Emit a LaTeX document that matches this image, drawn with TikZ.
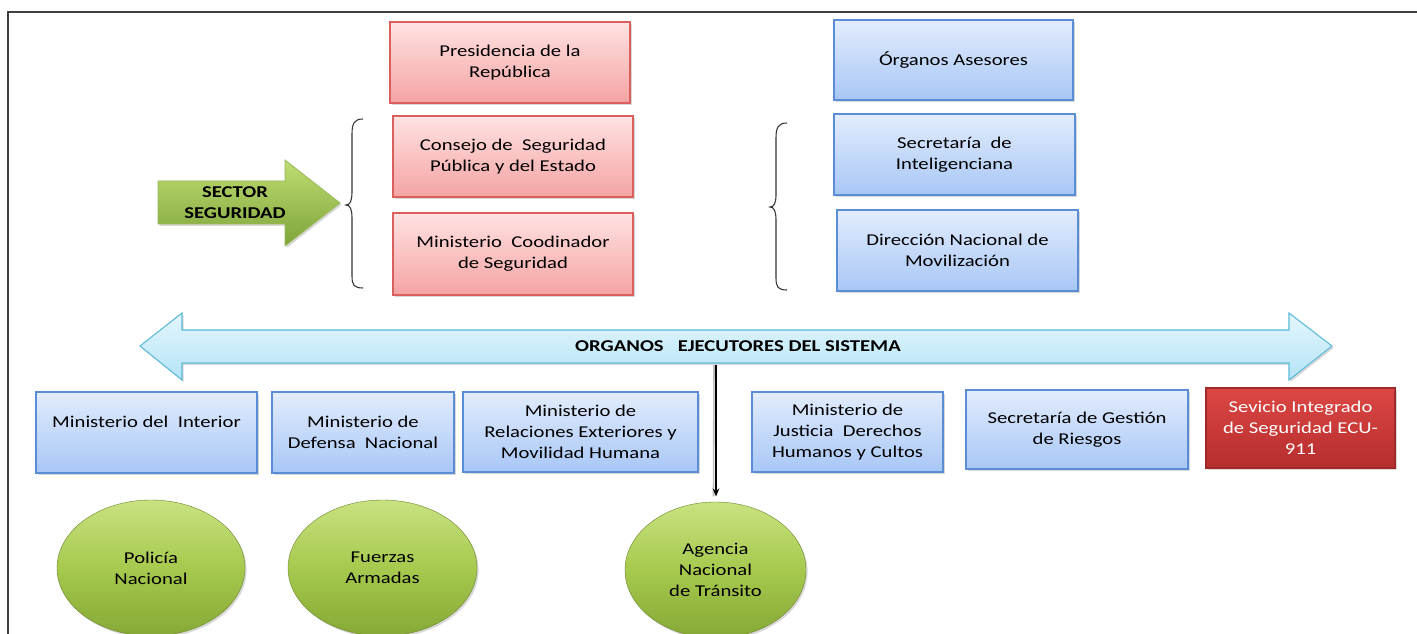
\documentclass[tikz,border=0pt]{standalone}
\usepackage{fontspec}
\setmainfont[FakeStretch=1.25]{Carlito}
\usetikzlibrary{shadows,arrows.meta,shapes.geometric}
\definecolor{rtop}{HTML}{FFE2E2}
\definecolor{rbot}{HTML}{F5A3A3}
\definecolor{rdraw}{HTML}{D9605C}
\definecolor{btop}{HTML}{E2ECFD}
\definecolor{bbot}{HTML}{A8C7F6}
\definecolor{bdraw}{HTML}{5B8DD6}
\definecolor{etop}{HTML}{DC4744}
\definecolor{ebot}{HTML}{B52D2D}
\definecolor{edraw}{HTML}{A02828}
\definecolor{gtop}{HTML}{C9E281}
\definecolor{gmid}{HTML}{A6C94E}
\definecolor{gbot}{HTML}{86A836}
\definecolor{atop}{HTML}{BFDC72}
\definecolor{abot}{HTML}{7EA43A}
\definecolor{adraw}{HTML}{9BBB59}
\definecolor{ltop}{HTML}{E4F6FD}
\definecolor{lbot}{HTML}{B4E4F6}
\definecolor{ldraw}{HTML}{5BBBD8}
\newcommand\fs{\fontsize{12.4}{15.75}\selectfont}
\tikzset{
  box/.style={draw, line width=0.8pt, align=center, font=\fs, inner sep=2pt,
    drop shadow={shadow xshift=1.2pt, shadow yshift=-1.5pt, opacity=0.3}},
  redbox/.style={box, draw=rdraw, top color=rtop, bottom color=rbot},
  bluebox/.style={box, draw=bdraw, top color=btop, bottom color=bbot},
  ecubox/.style={box, draw=edraw, top color=etop, bottom color=ebot, text=white},
  gball/.style={ellipse, align=center, font=\fs, top color=gtop, bottom color=gbot,
    middle color=gmid, draw=gbot!80!black, line width=0.3pt,
    drop shadow={shadow xshift=1.2pt, shadow yshift=-1.5pt, opacity=0.3}},
  brace/.style={draw=black!80, line width=0.8pt},
  conn/.style={draw=black, line width=0.9pt, -{Stealth[length=6pt,width=5pt]}}
}
\begin{document}
\begin{tikzpicture}[x=0.75pt, y=-0.75pt]
\useasboundingbox (0,0) rectangle (1417,634);
\clip (0,0) rectangle (1417,634);
\fill[white] (0,0) rectangle (1417,634);
% frame
\draw[line width=1.6pt, black!75] (8,640) -- (8,12) -- (1420,12);

% top red boxes
\node[redbox, minimum width=180pt, minimum height=60.75pt] (pres) at (510,62.5) {Presidencia de la\\República};
\node[redbox, minimum width=180pt, minimum height=60.75pt] (cons) at (513,156.5) {Consejo de\ \ Seguridad\\Pública y del Estado};
\node[redbox, minimum width=180pt, minimum height=61.5pt] (mcoord) at (513,254) {Ministerio\ \ Coodinador\\de Seguridad};

% top blue boxes
\node[bluebox, minimum width=179.25pt, minimum height=60pt] (organos) at (953.5,60) {Órganos Asesores};
\node[bluebox, minimum width=180.75pt, minimum height=60.75pt] (secint) at (954.5,154.5) {Secretaría\ \ de\\Inteligenciana};
\node[bluebox, minimum width=180.75pt, minimum height=60.75pt] (dirnac) at (957.5,250.5) {Dirección Nacional de\\Movilización};

% braces
\draw[brace] (363,119) .. controls (354,119) and (352,124) .. (352,134) -- (352,192)
  .. controls (352,201) and (350,205) .. (346,205)
  .. controls (350,205) and (352,209) .. (352,218) -- (352,276)
  .. controls (352,285) and (354,288) .. (363,288);
\draw[brace] (787,123) .. controls (778,123) and (776,128) .. (776,138) -- (776,195)
  .. controls (776,203) and (774,207) .. (770,207)
  .. controls (774,207) and (776,211) .. (776,220) -- (776,278)
  .. controls (776,287) and (778,290) .. (787,290);

% green arrow
\path[draw=adraw, line width=0.6pt, top color=atop, bottom color=abot,
  drop shadow={shadow xshift=1.2pt, shadow yshift=-1.5pt, opacity=0.3}]
  (158,181) -- (285,181) -- (285,160) -- (340,203) -- (285,246) -- (285,224) -- (158,224) -- cycle;
\node[font=\fs\bfseries, align=center] (sector) at (235,203) {SECTOR\\SEGURIDAD};

% big double arrow
\path[draw=ldraw, line width=0.8pt, top color=ltop, bottom color=lbot,
  drop shadow={shadow xshift=1.2pt, shadow yshift=-1.5pt, opacity=0.3}]
  (140,346) -- (182,313) -- (182,330) -- (1289,330) -- (1289,313) -- (1332,346)
  -- (1289,380) -- (1289,363) -- (182,363) -- (182,380) -- cycle;
\node[font=\fs\bfseries] (ejec) at (738,346) {ORGANOS\ \ \ EJECUTORES DEL SISTEMA};
\coordinate (ejecbase) at (716,365);

% bottom boxes
\node[bluebox, minimum width=165.75pt, minimum height=60.75pt] (minint) at (146.5,432.5) {Ministerio del\ \ Interior\\\mbox{}};
\node[bluebox, minimum width=136.5pt, minimum height=60.75pt] (mindef) at (363,432.5) {Ministerio de\\Defensa\ \ Nacional};
\node[bluebox, minimum width=176.25pt, minimum height=60pt] (minrel) at (580.5,432) {Ministerio de\\Relaciones Exteriores y\\Movilidad Humana};
\node[bluebox, minimum width=143.25pt, minimum height=60pt] (minjus) at (847.5,432) {Ministerio de\\Justicia\ \ Derechos\\Humanos y Cultos};
\node[bluebox, minimum width=166.5pt, minimum height=59.25pt] (secges) at (1077,429.5) {Secretaría de Gestión\\de Riesgos};
\node[ecubox, minimum width=141.75pt, minimum height=60pt] (ecu) at (1300.5,428) {Sevicio Integrado\\de Seguridad ECU-\\911};

% ellipses
\node[gball, minimum width=141pt, minimum height=102pt] (policia) at (151,568) {Policía\\Nacional};
\node[gball, minimum width=141.75pt, minimum height=102pt] (fuerzas) at (382.5,568) {Fuerzas\\Armadas};
\node[gball, minimum width=135.75pt, minimum height=102pt] (agencia) at (715.5,570) {Agencia\\Nacional\\de Tránsito};

% connector
\draw[draw=black!25, line width=1.2pt] ([xshift=-1.5pt]ejecbase) -- ([xshift=-1.5pt,yshift=4pt]agencia.north);
\draw[conn, shorten >=4pt] (ejecbase) -- (ejecbase |- agencia.north);
\end{tikzpicture}
\end{document}
